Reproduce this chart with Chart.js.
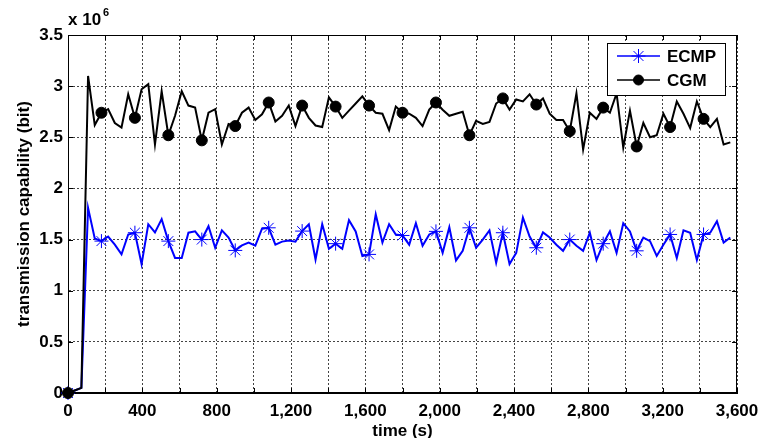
<!DOCTYPE html>
<html>
<head>
<meta charset="utf-8">
<script src="https://cdn.jsdelivr.net/npm/chart.js@4/dist/chart.umd.min.js"></script>
<style>
html,body{margin:0;padding:0;background:#fff;}
canvas{display:block;}
</style>
</head>
<body>
<canvas id="c" width="758" height="438"></canvas>
<script>
// time (s)
const times = [0,36,72,108,144,180,216,252,288,324,360,396,432,468,504,540,576,612,648,684,
720,756,792,828,864,900,936,972,1008,1044,1080,1116,1152,1188,1224,1260,1296,1332,1368,1404,
1440,1476,1512,1548,1584,1620,1656,1692,1728,1764,1800,1836,1872,1908,1944,1980,2016,2052,2088,2124,
2160,2196,2232,2268,2304,2340,2376,2412,2448,2484,2520,2556,2592,2628,2664,2700,2736,2772,2808,2844,
2880,2916,2952,2988,3024,3060,3096,3132,3168,3204,3240,3276,3312,3348,3384,3420,3456,3492,3528,3564];

// transmission capability, units of 10^6 bit
const ecmp = [0,0.025,0.05,1.81,1.51,1.485,1.53,1.45,1.355,1.55,1.567,1.26,1.65,1.57,1.70,1.485,1.32,1.32,1.567,1.58,
1.50,1.63,1.42,1.59,1.52,1.394,1.443,1.47,1.44,1.606,1.615,1.45,1.48,1.49,1.48,1.583,1.65,1.305,1.65,1.41,
1.46,1.41,1.69,1.58,1.34,1.355,1.746,1.47,1.65,1.55,1.54,1.45,1.66,1.44,1.55,1.58,1.37,1.62,1.296,1.39,
1.615,1.42,1.50,1.59,1.273,1.567,1.26,1.37,1.714,1.53,1.42,1.57,1.52,1.45,1.39,1.50,1.44,1.39,1.567,1.30,
1.46,1.58,1.37,1.66,1.58,1.39,1.52,1.485,1.34,1.45,1.55,1.32,1.59,1.567,1.30,1.55,1.567,1.68,1.47,1.52];

const cgm = [0,0.025,0.05,3.10,2.62,2.74,2.775,2.64,2.595,2.92,2.69,2.97,3.02,2.43,2.95,2.52,2.71,2.95,2.81,2.79,
2.47,2.74,2.775,2.43,2.63,2.61,2.74,2.79,2.67,2.725,2.84,2.655,2.71,2.81,2.61,2.81,2.69,2.615,2.60,2.89,
2.80,2.69,2.76,2.83,2.90,2.81,2.74,2.73,2.57,2.80,2.74,2.73,2.69,2.61,2.77,2.84,2.77,2.71,2.73,2.75,
2.52,2.66,2.63,2.65,2.83,2.88,2.77,2.87,2.85,2.92,2.82,2.88,2.73,2.67,2.67,2.56,2.93,2.38,2.74,2.68,
2.79,2.74,2.93,2.40,2.76,2.41,2.64,2.50,2.52,2.73,2.60,2.85,2.73,2.59,2.85,2.68,2.60,2.68,2.43,2.45];

const seriesNames = ['ECMP','CGM'];
const xTitle = 'time (s)';
const yTitle = 'transmission capability (bit)';

const FONT = '"Liberation Sans", Arial, sans-serif';

const frame = {
  id: 'frame',
  afterDraw(chart) {
    const {ctx, chartArea: a, scales} = chart;
    ctx.save();
    ctx.strokeStyle = '#000';
    ctx.lineWidth = 1;
    ctx.strokeRect(a.left + 0.5, a.top + 0.5, a.right - a.left - 1, a.bottom - a.top - 1);
    ctx.beginPath();
    scales.x.ticks.forEach(t => {
      const x = Math.round(scales.x.getPixelForValue(t.value)) + 0.5;
      ctx.moveTo(x, a.bottom); ctx.lineTo(x, a.bottom - 5);
      ctx.moveTo(x, a.top); ctx.lineTo(x, a.top + 5);
    });
    scales.y.ticks.forEach(t => {
      const y = Math.round(scales.y.getPixelForValue(t.value)) + 0.5;
      ctx.moveTo(a.left, y); ctx.lineTo(a.left + 5, y);
      ctx.moveTo(a.right, y); ctx.lineTo(a.right - 5, y);
    });
    ctx.stroke();
    // exponent label
    ctx.fillStyle = '#000';
    ctx.textBaseline = 'alphabetic';
    ctx.textAlign = 'left';
    ctx.font = 'bold 17px ' + FONT;
    ctx.fillText('x 10', a.left, 25);
    const w = ctx.measureText('x 10').width;
    ctx.font = 'bold 11px ' + FONT;
    ctx.fillText('6', a.left + w + 2, 16);
    // legend
    const lx = 607, ly = 43, lw = 118, lh = 52;
    ctx.fillStyle = '#fff';
    ctx.fillRect(lx, ly, lw, lh);
    ctx.strokeStyle = '#000';
    ctx.lineWidth = 1;
    ctx.strokeRect(lx + 0.5, ly + 0.5, lw, lh);
    const rows = [56, 80];
    chart.data.datasets.forEach((ds, i) => {
      const y = rows[i];
      ctx.strokeStyle = ds.borderColor;
      ctx.lineWidth = 1.5;
      ctx.beginPath();
      ctx.moveTo(617, y); ctx.lineTo(660, y);
      ctx.stroke();
      ctx.fillStyle = ds.pointBackgroundColor;
      ctx.strokeStyle = ds.borderColor;
      ctx.lineWidth = 1;
      Chart.helpers.drawPoint(ctx, {
        pointStyle: ds.pointStyle, radius: ds.legendRadius, rotation: 0,
        borderWidth: ds.pointBorderWidth
      }, 638.5, y);
      ctx.fillStyle = '#000';
      ctx.font = 'bold 17px ' + FONT;
      ctx.textBaseline = 'middle';
      ctx.fillText(seriesNames[i], 667, y + 1);
    });
    ctx.restore();
  }
};

const markEvery = ctx => (ctx.dataIndex % 5 === 0);

new Chart(document.getElementById('c'), {
  type: 'line',
  data: {
    datasets: [
      {
        label: seriesNames[0],
        data: times.map((t, i) => ({x: t, y: ecmp[i]})),
        borderColor: '#0000ff',
        backgroundColor: '#0000ff',
        borderWidth: 2,
        pointStyle: 'star',
        pointBorderColor: '#0000ff',
        pointBackgroundColor: '#0000ff',
        pointBorderWidth: 1,
        pointRadius: c => markEvery(c) ? 7 : 0,
        legendRadius: 7,
        tension: 0,
        clip: false,
        order: 1
      },
      {
        label: seriesNames[1],
        data: times.map((t, i) => ({x: t, y: cgm[i]})),
        borderColor: '#000000',
        backgroundColor: '#000000',
        borderWidth: 2,
        pointStyle: 'circle',
        pointBorderColor: '#000000',
        pointBackgroundColor: '#000000',
        pointBorderWidth: 1,
        pointRadius: c => markEvery(c) ? 5.5 : 0,
        legendRadius: 5,
        tension: 0,
        clip: false,
        order: 0
      }
    ]
  },
  options: {
    responsive: false,
    animation: false,
    devicePixelRatio: 1,
    events: [],
    layout: {padding: {left: 0, right: 21, top: 35, bottom: 0}},
    plugins: {legend: {display: false}, tooltip: {enabled: false}},
    scales: {
      x: {
        type: 'linear',
        min: 0, max: 3600,
        afterFit: s => { s.height = 45; s.paddingLeft = 0; s.paddingRight = 0; },
        grid: {color: '#444', lineWidth: 1, drawTicks: false},
        border: {display: true, color: '#000', width: 1, dash: [2, 2]},
        ticks: {
          stepSize: 200, autoSkip: false, maxRotation: 0, padding: 8,
          color: '#000', font: {family: FONT, size: 17, weight: 'bold'},
          callback: v => (v % 400 === 0 ? v.toLocaleString('en-US') : '')
        },
        title: {
          display: true, text: xTitle, color: '#000',
          font: {family: FONT, size: 17, weight: 'bold', lineHeight: 1},
          padding: {top: 0, bottom: -1.5}
        }
      },
      y: {
        min: 0, max: 3.5,
        afterFit: s => { s.width = 68; s.paddingTop = 0; s.paddingBottom = 0; },
        grid: {color: '#444', lineWidth: 1, drawTicks: false},
        border: {display: true, color: '#000', width: 1, dash: [2, 2]},
        ticks: {
          stepSize: 0.5, padding: 5,
          color: '#000', font: {family: FONT, size: 17, weight: 'bold'},
          callback: v => String(v)
        },
        title: {
          display: true, text: yTitle, color: '#000',
          font: {family: FONT, size: 17, weight: 'bold', lineHeight: 1},
          padding: {top: 16, bottom: 0}
        }
      }
    }
  },
  plugins: [frame]
});
</script>
</body>
</html>
